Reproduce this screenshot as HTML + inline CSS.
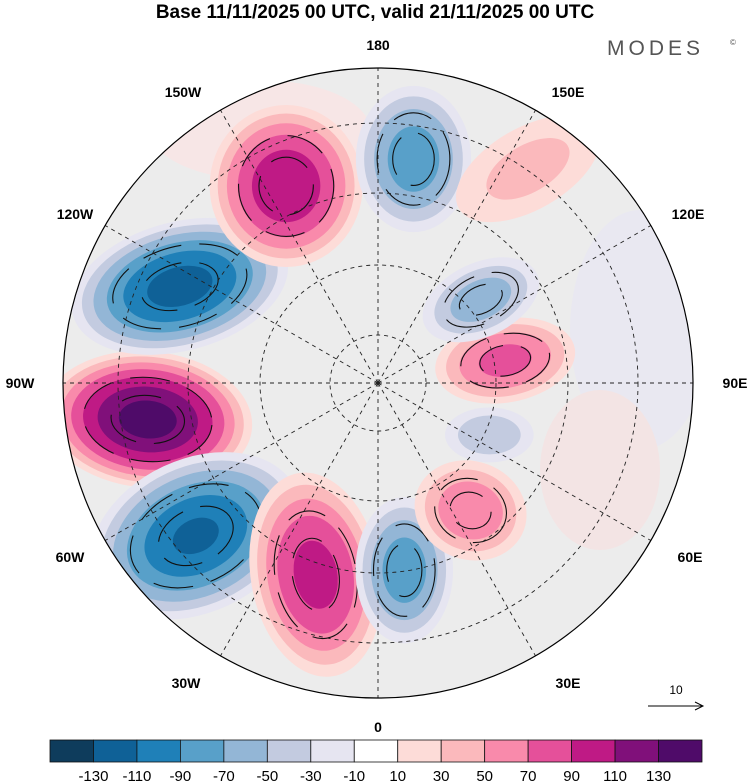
<!DOCTYPE html>
<html><head><meta charset="utf-8">
<style>
html,body{margin:0;padding:0;background:#fff;}
body{width:750px;height:783px;overflow:hidden;font-family:"Liberation Sans",sans-serif;}
svg{display:block}
</style></head>
<body>
<svg id="chart" width="750" height="783" viewBox="0 0 750 783" xmlns="http://www.w3.org/2000/svg">
<text x="375" y="18" text-anchor="middle" font-size="19" font-weight="bold" fill="#000">Base 11/11/2025 00 UTC, valid 21/11/2025 00 UTC</text>
<text x="607" y="55" font-size="21" letter-spacing="4" fill="#555">MODES</text>
<text x="730" y="45" font-size="8" fill="#555">©</text>
<defs><clipPath id="disk"><circle cx="378" cy="383" r="315"/></clipPath></defs>
<g id="mapLayer" clip-path="url(#disk)"></g>
<g id="gridLayer" clip-path="url(#disk)"></g>
<circle cx="378" cy="383" r="315" fill="none" stroke="#000" stroke-width="1.2"/>
<g id="labelLayer"></g>
<g>
<text x="676" y="694" font-size="12" text-anchor="middle">10</text>
<line x1="648" y1="706" x2="702" y2="706" stroke="#000" stroke-width="1"/>
<path d="M695 702 L703 706 L695 710" fill="none" stroke="#000"/>
</g>
<g id="colorbar"></g>
</svg>
<script>
const levels=[-150,-130,-110,-90,-70,-50,-30,-10,10,30,50,70,90,110,130,150];
const colors=["#0e3c5c","#0f6197","#1f80b8","#58a0c9","#93b6d6","#c3cbe0","#e6e5f1","#ffffff","#fddcd8","#fbb9bc","#f98aab","#e5509a","#bf1a85","#80107a","#4f0b69"];
const tickLabels=["-130","-110","-90","-70","-50","-30","-10","10","30","50","70","90","110","130"];
// anomaly centres: lon (deg, east positive), colatitude radius fraction, peak value
const blobLon=[-81,-116,-155,171,-50,-18,8,36,100,129,65,145];
const blobRad=[0.74,0.70,0.69,0.72,0.755,0.64,0.60,0.50,0.41,0.42,0.39,0.83];
const blobPeak=[140,-120,110,-85,-115,100,-85,70,80,-65,-50,40];
const blobSizeA=[92,98,68,52,98,58,44,52,64,57,42,78];
const blobSizeB=[60,57,72,66,68,92,66,45,38,34,26,40];
const blobRot=[5,-15,0,0,-25,-10,0,20,-10,-25,0,-30];
const NS="http://www.w3.org/2000/svg";
const cx=378,cy=383,R=315;
function proj(lon,frac){const a=lon*Math.PI/180;return [cx+frac*R*Math.sin(a),cy+frac*R*Math.cos(a)];}
function colorFor(v){for(let i=0;i<levels.length-1;i++){if(v>=levels[i]&&v<levels[i+1])return colors[i];}return v<0?colors[0]:colors[colors.length-1];}
const map=document.getElementById('mapLayer');
const bg=document.createElementNS(NS,'circle');
bg.setAttribute('cx',cx);bg.setAttribute('cy',cy);bg.setAttribute('r',R);bg.setAttribute('fill','#ececec');


map.appendChild(bg);
[[640,330,70,120,'#e9e8f1'],[260,130,110,50,'#f7e6e6'],[600,470,60,80,'#f3e4e4']].forEach(z=>{const e=document.createElementNS(NS,'ellipse');e.setAttribute('cx',z[0]);e.setAttribute('cy',z[1]);e.setAttribute('rx',z[2]);e.setAttribute('ry',z[3]);e.setAttribute('fill',z[4]);


map.appendChild(e);});
for(let b=0;b<blobPeak.length;b++){
  const [x,y]=proj(blobLon[b],blobRad[b]);const p=blobPeak[b];const s=Math.sign(p);
  const g=document.createElementNS(NS,'g');
  
  
  g.setAttribute('transform',`translate(${x},${y}) rotate(${blobRot[b]})`);
  for(let lv=10;lv<Math.abs(p);lv+=20){
    const f=Math.sqrt(1-lv/Math.abs(p))*1.18;
    const e=document.createElementNS(NS,'ellipse');
    e.setAttribute('rx',blobSizeA[b]*f);e.setAttribute('ry',blobSizeB[b]*f);
    e.setAttribute('fill',colorFor(s*(lv+1)));
    
    
    g.appendChild(e);
  }
  if(Math.abs(p)>=60){
    for(const f of [0.4,0.7]){
      const e=document.createElementNS(NS,'ellipse');
      e.setAttribute('rx',blobSizeA[b]*f);e.setAttribute('ry',blobSizeB[b]*f);
      e.setAttribute('fill','none');e.setAttribute('stroke','#111');e.setAttribute('stroke-width','1.1');
      e.setAttribute('stroke-dasharray','40 18');
      
      
      g.appendChild(e);
    }
  }
  map.appendChild(g);
}
const grid=document.getElementById('gridLayer');
[48,118,190,260].forEach(r=>{const c=document.createElementNS(NS,'circle');c.setAttribute('cx',cx);c.setAttribute('cy',cy);c.setAttribute('r',r);c.setAttribute('fill','none');c.setAttribute('stroke','#222');c.setAttribute('stroke-dasharray','4 4');c.setAttribute('stroke-width','0.9');


grid.appendChild(c);});
const lonLabels=["0","30E","60E","90E","120E","150E","180","150W","120W","90W","60W","30W"];
const labelX=[378,568,690,735,688,568,378,183,75,20,70,186];
const labelY=[727,683,557,383,214,92,45,92,214,383,557,683];
const lab=document.getElementById('labelLayer');
for(let i=0;i<12;i++){
  const lon=i*30;const [x,y]=proj(lon,1);
  const l=document.createElementNS(NS,'line');l.setAttribute('x1',cx);l.setAttribute('y1',cy);l.setAttribute('x2',x);l.setAttribute('y2',y);l.setAttribute('stroke','#222');l.setAttribute('stroke-dasharray','4 4');l.setAttribute('stroke-width','0.9');
  
  
  grid.appendChild(l);
  const t=document.createElementNS(NS,'text');t.setAttribute('x',labelX[i]);t.setAttribute('y',labelY[i]+5);t.setAttribute('text-anchor','middle');t.setAttribute('font-size','14');t.setAttribute('font-weight','bold');t.textContent=lonLabels[i];
  
  
  lab.appendChild(t);
}
const cb=document.getElementById('colorbar');
const x0=50,x1=702,w=(x1-x0)/colors.length;
colors.forEach((c,i)=>{const r=document.createElementNS(NS,'rect');r.setAttribute('x',x0+i*w);r.setAttribute('y',740);r.setAttribute('width',w);r.setAttribute('height',22);r.setAttribute('fill',c);r.setAttribute('stroke','#111');r.setAttribute('stroke-width','0.8');


cb.appendChild(r);});
tickLabels.forEach((t,i)=>{const e=document.createElementNS(NS,'text');e.setAttribute('x',x0+(i+1)*w);e.setAttribute('y',781);e.setAttribute('text-anchor','middle');e.setAttribute('font-size','15');e.textContent=t;


cb.appendChild(e);});
</script>
</body></html>
